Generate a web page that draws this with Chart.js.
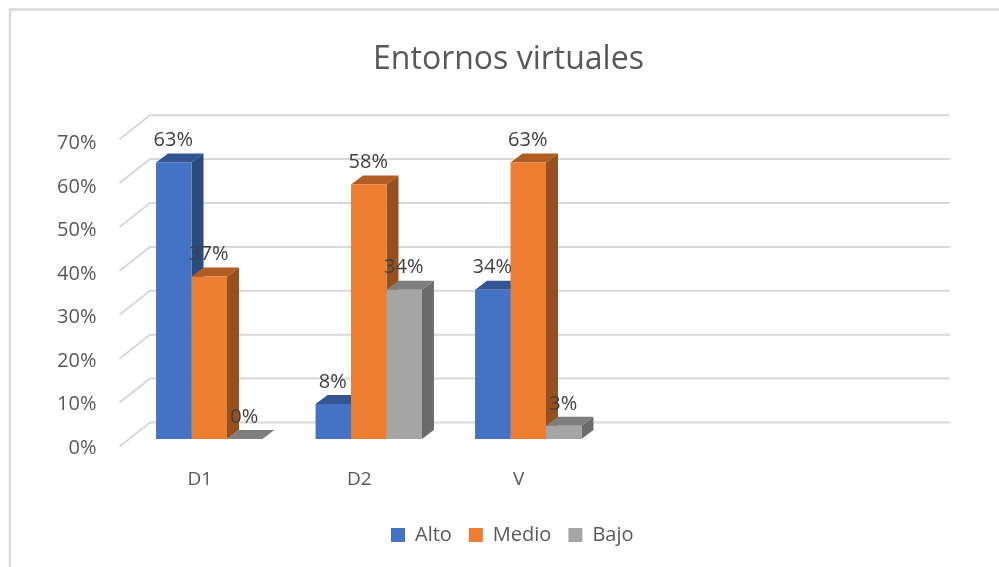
<!DOCTYPE html>
<html>
<head>
<meta charset="utf-8">
<style>
  body { margin: 0; background: #fff; }
  canvas { display: block; }
</style>
</head>
<body>
<canvas id="chart" width="999" height="567"></canvas>
<script src="https://cdn.jsdelivr.net/npm/chart.js@4"></script>
<script>
const categories = ['D1', 'D2', 'V', '', '']
const alto = [63, 8, 34, null, null]
const medio = [37, 58, 63, null, null]
const bajo = [0, 34, 3, null, null]
const tickValues = [0, 10, 20, 30, 40, 50, 60, 70]

const FONT = '"Open Sans", sans-serif'
const GRID = '#D9D9D9'
const topColors = ['#335593', '#B05C22', '#7E7E7E']
const sideColors = ['#2A4A80', '#96501E', '#6B6B6B']

const poly = (ctx, color, pts) => {
    ctx.fillStyle = color
    ctx.beginPath()
    pts.forEach((p, i) => i ? ctx.lineTo(p[0], p[1]) : ctx.moveTo(p[0], p[1]))
    ctx.closePath()
    ctx.fill()
}

const threeD = {
    id: 'threeD',
    afterLayout(chart) {
        // tick labels sit left of the axis box, widen it so they are not clipped
        chart.scales.yt.left = 40
        chart.legend.left -= 16
        chart.legend.right -= 16
    },
    beforeDraw(chart) {
        const ctx = chart.ctx
        ctx.save()
        ctx.strokeStyle = GRID
        ctx.lineWidth = 2.5
        ctx.beginPath()
        ctx.moveTo(10, 567)
        ctx.lineTo(10, 9.5)
        ctx.lineTo(999, 9.5)
        ctx.stroke()
        ctx.restore()
    },
    beforeDatasetsDraw(chart) {
        const ctx = chart.ctx
        const { x, y } = chart.scales
        const wallLeft = x.left + 20.5
        const wallRight = x.right + 23
        ctx.save()
        ctx.strokeStyle = GRID
        ctx.lineWidth = 2
        tickValues.forEach((v) => {
            const py = y.getPixelForValue(v) - 16.5
            ctx.beginPath()
            ctx.moveTo(wallLeft - 30.5, py + 24)
            ctx.lineTo(wallLeft, py)
            ctx.lineTo(wallRight, py)
            ctx.stroke()
        })
        const dx = 12
        const dy = 9
        categories.forEach((c, i) => {
            chart.data.datasets.forEach((ds, j) => {
                if (ds.data[i] === null) return
                const bar = chart.getDatasetMeta(j).data[i]
                const l = bar.x - bar.width / 2
                const r = bar.x + bar.width / 2
                poly(ctx, sideColors[j], [[r, bar.y], [r + dx, bar.y - dy], [r + dx, bar.base - dy], [r, bar.base]])
                poly(ctx, topColors[j], [[l, bar.y], [l + dx, bar.y - dy], [r + dx, bar.y - dy], [r, bar.y]])
            })
        })
        ctx.restore()
    },
    afterDatasetsDraw(chart) {
        const ctx = chart.ctx
        ctx.save()
        ctx.font = '20px ' + FONT
        ctx.fillStyle = '#404040'
        ctx.textAlign = 'center'
        ctx.textBaseline = 'middle'
        chart.data.datasets.forEach((ds, j) => {
            chart.getDatasetMeta(j).data.forEach((bar, i) => {
                if (ds.data[i] === null) return
                ctx.fillText(ds.data[i] + '%', bar.x - 0.5, bar.y - 22)
            })
        })
        ctx.restore()
    }
}

new Chart(document.getElementById('chart'), {
    type: 'bar',
    plugins: [threeD],
    data: {
        labels: categories,
        datasets: [
            { label: 'Alto', data: alto, backgroundColor: '#4472C4' },
            { label: 'Medio', data: medio, backgroundColor: '#ED7D31' },
            { label: 'Bajo', data: bajo, backgroundColor: '#A5A5A5' }
        ]
    },
    options: {
        responsive: false,
        animation: false,
        datasets: { bar: { categoryPercentage: 0.667, barPercentage: 1 } },
        layout: { padding: { left: 90, right: 72, top: 0, bottom: 12 } },
        plugins: {
            tooltip: { enabled: false },
            title: {
                display: true,
                text: 'Entornos virtuales',
                color: '#595959',
                font: { family: FONT, size: 32, weight: 'normal', lineHeight: 1.2 },
                padding: { top: 41, bottom: 52.3 }
            },
            legend: {
                position: 'bottom',
                fullSize: false,
                labels: {
                    color: '#595959',
                    font: { family: FONT, size: 20 },
                    boxWidth: 14,
                    boxHeight: 14,
                    padding: 17
                }
            }
        },
        scales: {
            x: {
                grid: { display: false },
                border: { display: false },
                afterFit: (s) => { s.height = 61 },
                ticks: {
                    color: '#595959',
                    font: { family: FONT, size: 19 },
                    labelOffset: -9.5,
                    padding: 13.5,
                    maxRotation: 0,
                    autoSkip: false
                }
            },
            y: {
                display: false,
                min: -1.82,
                max: 70
            },
            yt: {
                position: 'left',
                min: 0.23,
                max: 72.7,
                grid: { display: false, drawTicks: false },
                border: { display: false },
                afterFit: (s) => { s.width = 39.5 },
                afterBuildTicks: (s) => { s.ticks = tickValues.map((value) => ({ value })) },
                ticks: {
                    color: '#595959',
                    font: { family: FONT, size: 20 },
                    padding: 33,
                    callback: (v) => v + '%'
                }
            }
        }
    }
})
</script>
</body>
</html>
